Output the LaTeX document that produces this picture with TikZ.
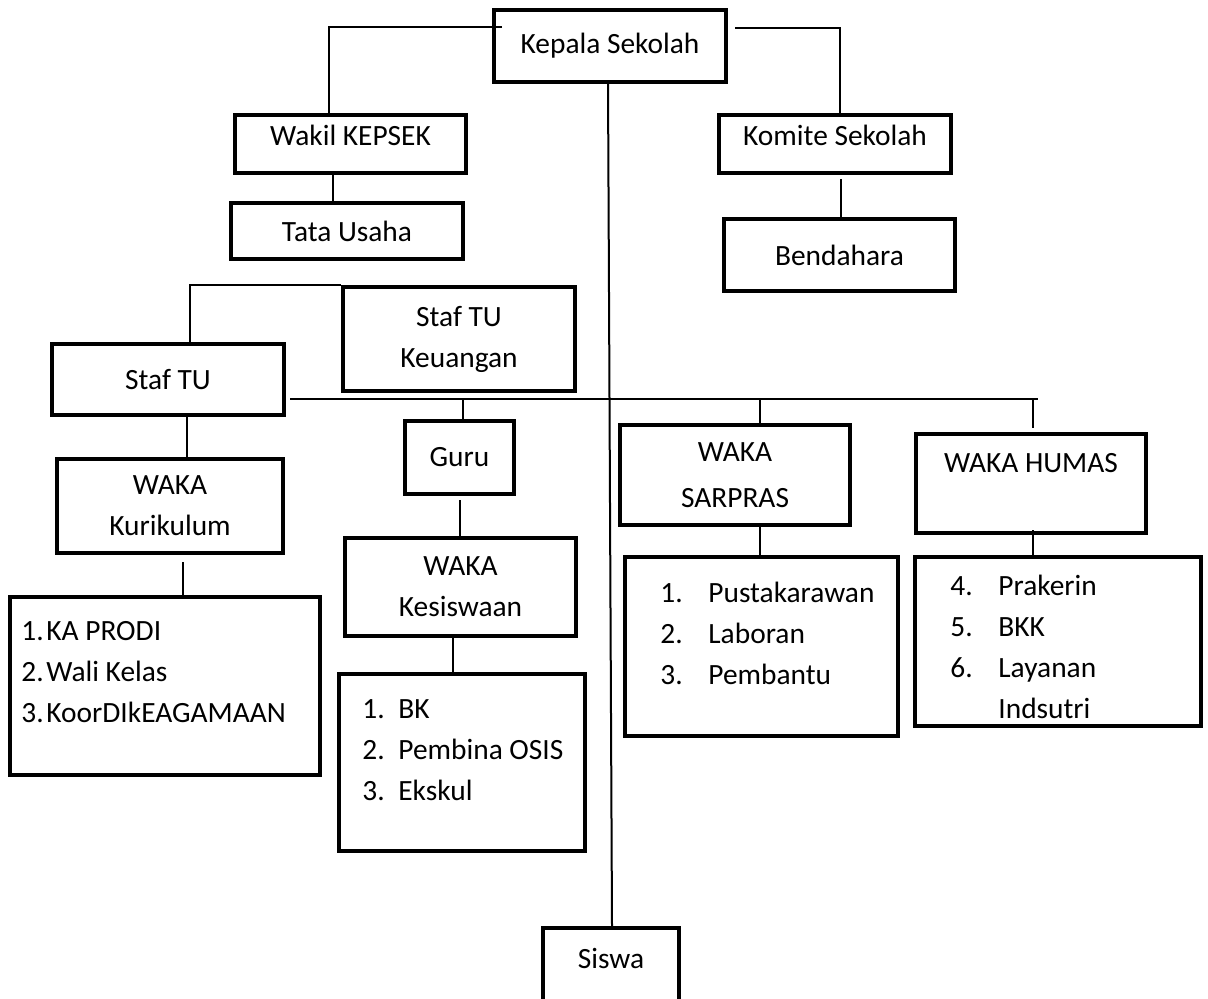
\documentclass[tikz,border=0pt]{standalone}
\usepackage{fontspec}
\setmainfont{Carlito}
\begin{document}
\begin{tikzpicture}[x=0.5pt,y=-0.5pt,font=\fontsize{14.7}{20.5}\selectfont,
    box/.style={draw,line width=2.2pt,inner sep=0pt,align=center},
    link/.style={line width=1pt}]
    \useasboundingbox (0,0) rectangle (1208,999);
    \clip (0,0) rectangle (1208,999);
    \fill[white] (0,0) rectangle (1208,999);

    \node[box,minimum width=115.8pt,minimum height=35.8pt] (ks) at (610,46){Kepala Sekolah};
    \node[box,minimum width=115.3pt,minimum height=28.8pt,text depth=9pt] (wk) at (350.5,144){Wakil KEPSEK};
    \node[box,minimum width=115.8pt,minimum height=27.8pt] (tu) at (347,231){Tata Usaha};
    \node[box,minimum width=115.8pt,minimum height=28.8pt,text depth=9pt] (km) at (835,144){Komite Sekolah};
    \node[box,minimum width=115.3pt,minimum height=35.8pt] (bd) at (839.5,255){Bendahara};
    \node[box,minimum width=115.8pt,minimum height=35.3pt] (stu) at (168,379.5){Staf TU};
    \node[box,minimum width=115.8pt,minimum height=51.8pt] (stk) at (459,339){Staf TU\\Keuangan};
    \node[box,minimum width=54.3pt,minimum height=36.3pt] (guru) at (459.5,457.5){Guru};
    \node[box,minimum width=112.8pt,minimum height=46.8pt] (wkur) at (170,506){WAKA\\Kurikulum};
    \node[box,minimum width=115.3pt,minimum height=48.8pt] (wkes) at (460.5,587){WAKA\\Kesiswaan};
    \node[box,minimum width=114.8pt,minimum height=49.8pt] (wsar) at (735,475){WAKA\\[2.5pt]SARPRAS};
    \node[box,minimum width=114.8pt,minimum height=49.3pt] (whum) at (1031,483.5){WAKA HUMAS\\~};
    \node[box,minimum width=154.8pt,minimum height=88.8pt] (lkur) at (165,686){};
    \node[box,minimum width=122.8pt,minimum height=88.3pt] (lkes) at (462,762.5){};
    \node[box,minimum width=136.3pt,minimum height=89.3pt] (lsar) at (761.5,646.5){};
    \node[box,minimum width=142.8pt,minimum height=84.3pt] (lhum) at (1058,641.5){};
    \node[box,minimum width=67.8pt,minimum height=39.8pt,text depth=10pt] (sis) at (611,968){Siswa};

    % isi daftar
    \node[anchor=base west,inner sep=0pt] (lkurt) at (21,640){\begin{tabular}[t]{@{}p{12.5pt}@{}l@{}}1.&KA PRODI\\2.&Wali Kelas\\3.&KoorDIkEAGAMAAN\end{tabular}};
    \node[anchor=base west,inner sep=0pt] (lkest) at (362,718){\begin{tabular}[t]{@{}p{18pt}@{}l@{}}1.&BK\\2.&Pembina OSIS\\3.&Ekskul\end{tabular}};
    \node[anchor=base west,inner sep=0pt] (lsart) at (660,602){\begin{tabular}[t]{@{}p{24pt}@{}l@{}}1.&Pustakarawan\\2.&Laboran\\3.&Pembantu\end{tabular}};
    \node[anchor=base west,inner sep=0pt] (lhumt) at (950,595){\begin{tabular}[t]{@{}p{24pt}@{}l@{}}4.&Prakerin\\5.&BKK\\6.&Layanan\\&Indsutri\end{tabular}};

    \coordinate (bus) at (1038,399);

    \draw[link] ([xshift=5pt,yshift=-9.5pt]ks.north west) -| ([xshift=-10.75pt]wk.north);
    \draw[link] ([xshift=3.5pt,yshift=-10pt]ks.north east) -| ([xshift=2.5pt]km.north);
    \draw[link] ([xshift=-8.75pt]wk.south) -- ([xshift=-8.75pt]wk.south |- tu.north);
    \draw[link] ([xshift=3pt,yshift=-2pt]km.south) -- ([xshift=3pt]km.south |- bd.north);
    \draw[link] ([xshift=-1pt]ks.south) -- ([xshift=0.5pt]sis.north);
    \draw[link] ([xshift=11pt]stu.north) |- (stk.north west);
    \draw[link] ([xshift=9.5pt]stu.south) -- ([xshift=9.5pt]stu.south |- wkur.north);
    \draw[link] ([xshift=2pt,yshift=-9.75pt]stu.east) -- (bus);
    \draw[link] ([xshift=1.75pt]guru.north) -- ([xshift=1.75pt]guru.north |- bus);
    \draw[link] ([xshift=12.5pt]wsar.north) -- ([xshift=12.5pt]wsar.north |- bus);
    \draw[link] ([xshift=1pt,yshift=2pt]whum.north) -- ([xshift=1pt]whum.north |- bus);
    \draw[link] ([yshift=-2pt]guru.south) -- (guru.south |- wkes.north);
    \draw[link] ([xshift=-3.75pt]wkes.south) -- ([xshift=-3.75pt]wkes.south |- lkes.north);
    \draw[link] ([xshift=6.5pt,yshift=-3.5pt]wkur.south) -- ([xshift=6.5pt]wkur.south |- lkur.north);
    \draw[link] ([xshift=12.5pt]wsar.south) -- ([xshift=12.5pt]wsar.south |- lsar.north);
    \draw[link] ([xshift=1pt,yshift=2.5pt]whum.south) -- ([xshift=1pt]whum.south |- lhum.north);
\end{tikzpicture}
\end{document}
